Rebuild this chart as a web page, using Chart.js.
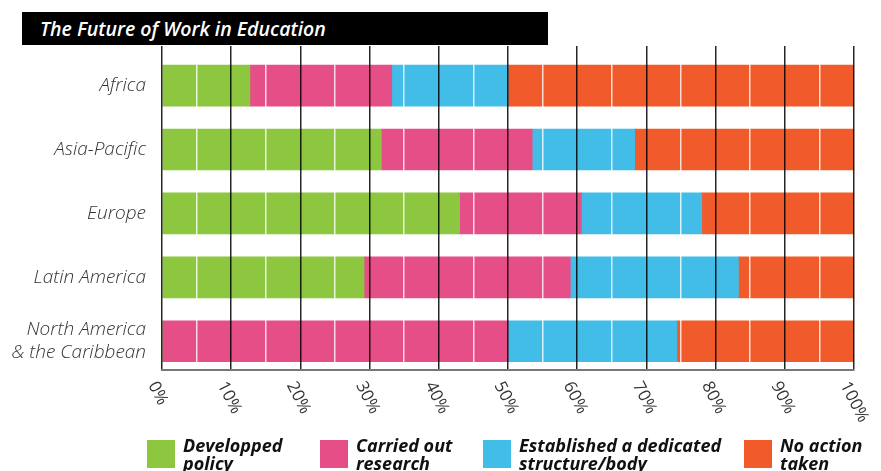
<!DOCTYPE html>
<html lang="en">
<head>
<meta charset="UTF-8">
<title>The Future of Work in Education</title>
<script src="https://cdn.jsdelivr.net/npm/chart.js@4.4.0/dist/chart.umd.min.js"></script>
<style>
  html, body { margin: 0; padding: 0; background: #fff; }
  #wrap { position: relative; width: 881px; height: 471px; overflow: hidden; }
  #workChart { position: absolute; left: 0; top: 0; }
  #title {
    position: absolute; left: 22px; top: 12px; width: 526px; height: 33px;
    box-sizing: border-box; padding-left: 18px;
    background: #000; color: #fff;
    font: italic 600 19.5px "Open Sans", sans-serif; line-height: 33px;
  }
</style>
</head>
<body>
<div id="wrap">
  <canvas id="workChart" width="881" height="471"></canvas>
  <div id="title">The Future of Work in Education</div>
</div>
<script>
// regions (top to bottom) and the share of each response, in %
const regions = ['Africa', 'Asia-Pacific', 'Europe', 'Latin America', ['North America', '& the Caribbean']];
const seriesNames = [['Developped', 'policy'], ['Carried out', 'research'], ['Established a dedicated', 'structure/body'], ['No action', 'taken']];
const developedPolicy    = [12.7, 31.7, 43.0, 29.2, 0];
const carriedOutResearch = [20.5, 21.8, 17.6, 29.8, 50.0];
const dedicatedBody      = [16.8, 14.8, 17.4, 24.3, 24.4];
const noActionTaken      = [50.0, 31.7, 22.0, 16.7, 25.6];
const percentTicks = [0, 10, 20, 30, 40, 50, 60, 70, 80, 90, 100];

const colors = ['#8DC63F', '#E54E86', '#42BDE7', '#F15A2B'];
const allSeries = [developedPolicy, carriedOutResearch, dedicatedBody, noActionTaken];

// rotated percentage labels under the axis
const axisLabels = {
    id: 'axisLabels',
    afterDraw(chart) {
        const { ctx, scales: { x } } = chart;
        ctx.save();
        ctx.font = '400 17px "Open Sans", sans-serif';
        ctx.fillStyle = '#333';
        ctx.textAlign = 'left';
        ctx.textBaseline = 'top';
        percentTicks.forEach(function(v) {
            ctx.save();
            ctx.translate(x.getPixelForValue(v) - 2, x.bottom + 9);
            ctx.rotate(63 * Math.PI / 180);
            ctx.fillText(v + '%', 0, 0);
            ctx.restore();
        });
        ctx.restore();
    }
};

// legend row along the bottom edge
const legendLeft = [147, 320, 483, 744];
const bottomLegend = {
    id: 'bottomLegend',
    afterDraw(chart) {
        const ctx = chart.ctx;
        ctx.save();
        ctx.font = 'italic 700 18px "Open Sans", sans-serif';
        ctx.textAlign = 'left';
        ctx.textBaseline = 'alphabetic';
        chart.data.datasets.forEach(function(ds, i) {
            const left = legendLeft[i];
            ctx.fillStyle = ds.backgroundColor;
            ctx.fillRect(left, 440, 28, 28);
            ctx.fillStyle = '#111';
            seriesNames[i].forEach(function(line, j) {
                ctx.fillText(line, left + 36, 452 + j * 18);
            });
        });
        ctx.restore();
    }
};

const workCtx = document.getElementById('workChart').getContext('2d');
const workChart = new Chart(workCtx, {
    type: 'bar',
    data: {
        datasets: allSeries.map(function(values, i) {
            return {
                label: seriesNames[i].join(' '),
                data: values.map(function(v, idx) { return { x: v, y: idx }; }),
                backgroundColor: colors[i],
                borderWidth: 0,
                barThickness: 41
            };
        })
    },
    options: {
        indexAxis: 'y',
        responsive: false,
        animation: false,
        layout: { padding: { top: 46, right: 27, bottom: 101, left: 0 } },
        plugins: {
            legend: { display: false },
            tooltip: { enabled: false }
        },
        scales: {
            x: {
                type: 'linear',
                stacked: true,
                min: 0,
                max: 100,
                ticks: { display: false, stepSize: 5 },
                grid: {
                    z: 1,
                    drawTicks: false,
                    color: function(c) {
                        return c.tick && c.tick.value % 10 === 0 ? 'rgba(0,0,0,0.85)' : 'rgba(255,255,255,0.8)';
                    },
                    lineWidth: 1.5
                },
                border: { color: '#777', width: 2, z: 2 }
            },
            y: {
                type: 'linear',
                stacked: true,
                reverse: true,
                offset: false,
                min: -0.62,
                max: 4.45,
                afterBuildTicks: function(s) {
                    s.ticks = regions.map(function(_, i) { return { value: i }; });
                },
                afterFit: function(s) { s.width = 162; },
                ticks: {
                    callback: function(v) { return regions[v]; },
                    font: { family: 'Open Sans', style: 'italic', weight: 300, size: 19, lineHeight: 1.22 },
                    color: '#333',
                    padding: 16
                },
                grid: { display: false, drawTicks: false },
                border: { display: false }
            }
        }
    },
    plugins: [axisLabels, bottomLegend]
});
</script>
</body>
</html>
